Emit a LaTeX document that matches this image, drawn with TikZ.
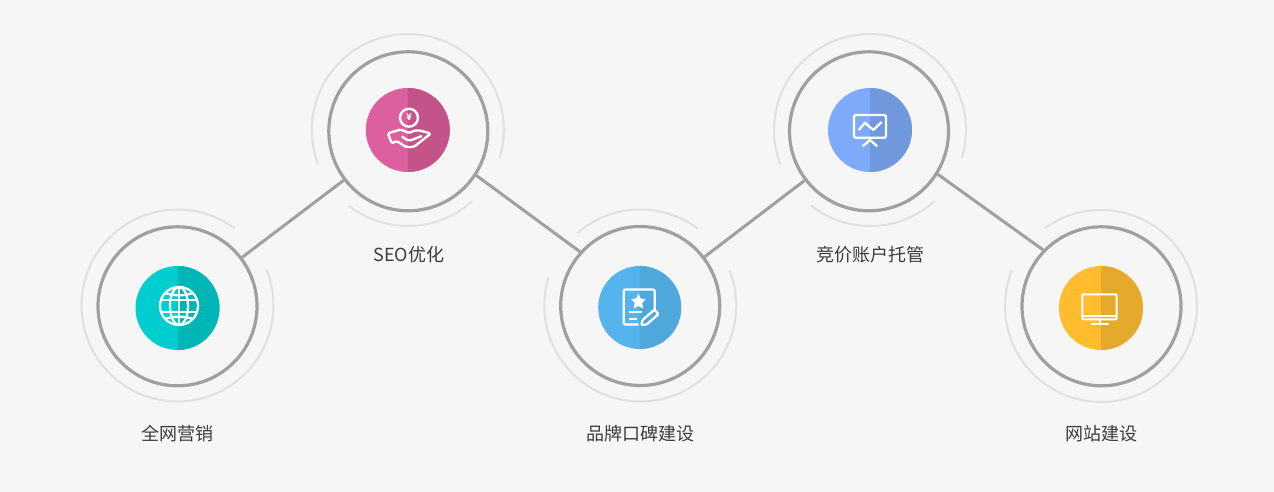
\documentclass[tikz,border=0pt]{standalone}
\usepackage{fontspec}
\setmainfont{Noto Sans CJK SC}
\definecolor{pagebg}{HTML}{F6F6F6}
\definecolor{ringgray}{HTML}{A0A0A0}
\definecolor{halogray}{HTML}{E0E0E0}
\definecolor{labelgray}{HTML}{3C3C3C}
\definecolor{tealL}{HTML}{00CDCF}
\definecolor{tealR}{HTML}{00B5B6}
\definecolor{pinkL}{HTML}{DC5F9E}
\definecolor{pinkR}{HTML}{C35389}
\definecolor{skyL}{HTML}{55B4EE}
\definecolor{skyR}{HTML}{4FA8DC}
\definecolor{bluL}{HTML}{7FAAF9}
\definecolor{bluR}{HTML}{6F99DC}
\definecolor{ambL}{HTML}{FFBC2E}
\definecolor{ambR}{HTML}{E5AA2B}
\begin{document}
\begin{tikzpicture}[x=1pt,y=1pt,
    ring/.style={circle,draw=ringgray,line width=3.2pt,minimum size=159pt,inner sep=0pt},
    halo/.style={draw=halogray,line width=2pt},
    link/.style={draw=ringgray,line width=3pt},
    icon/.style={draw=white,line width=2.3pt,line join=round},
    caption/.style={text=labelgray,font=\fontsize{18}{18}\selectfont,inner sep=0pt}]
    \useasboundingbox (0,0) rectangle (1274,492);
    \fill[pagebg] (0,0) rectangle (1274,492);

    % station 1
    \begin{scope}[shift={(177.5,184)}]
        \fill[tealL] (0,0) circle (42);
        \fill[tealR] (0,42) arc[start angle=90,end angle=-90,radius=42pt] -- cycle;
        \node[ring] (ring1) at (0,1.7) {};
        \draw[halo] (53:96) ++(0,2.5) arc[start angle=53,end angle=382,radius=96pt];
        \node[caption] (cap1) at (0,-126) {全网营销};
        % globe
        \begin{scope}[shift={(1.5,2)}]
            \draw[icon] (0,0) circle (19);
            \draw[icon] (0,0) ellipse (9 and 19);
            \draw[icon] (0,-19) -- (0,19);
            \draw[icon] (-18.5,6) -- (18.5,6);
            \draw[icon] (-18.5,-6) -- (18.5,-6);
            \draw[icon] (-14,13) .. controls (-6,10) and (6,10) .. (14,13);
            \draw[icon] (-14,-13) .. controls (-6,-10) and (6,-10) .. (14,-13);
        \end{scope}
    \end{scope}

    % station 2
    \begin{scope}[shift={(407.8,362)}]
        \fill[pinkL] (0,0) circle (42);
        \fill[pinkR] (0,42) arc[start angle=90,end angle=-90,radius=42pt] -- cycle;
        \node[ring] (ring2) at (0.5,-1.3) {};
        \draw[halo] (-17:96) arc[start angle=-17,end angle=201,radius=96pt];
        \draw[halo] (232:96) arc[start angle=232,end angle=312,radius=96pt];
        \node[caption] (cap2) at (1,-125) {SEO优化};
        % coin and hand
        \draw[icon,line width=2.4pt] (1.2,12.3) circle (9);
        \node[text=white,inner sep=0pt,font=\bfseries\fontsize{9}{9}\selectfont] (coin) at (1.2,12.3) {¥};
        \draw[icon,line width=2.4pt,rounded corners=1.5pt] (-20,-3.3) -- (-7,0.5) -- (1,-3) -- (7,-0.5)
            -- (12,-0.5) -- (23,-3.5) -- (6,-17) -- (-2,-17) -- (-11,-11) -- (-16,-13.5) -- cycle;
        \draw[icon,line width=2.4pt,rounded corners=2pt] (-6,-6.5) -- (1,-11) -- (9,-8) -- (14,-6);
    \end{scope}

    % station 3
    \begin{scope}[shift={(639.7,184.5)}]
        \fill[skyL] (0,0) circle (41.5);
        \fill[skyR] (0,41.5) arc[start angle=90,end angle=-90,radius=41.5pt] -- cycle;
        \node[ring] (ring3) at (0.5,1.5) {};
        \draw[halo] (53:96) ++(0.6,2) arc[start angle=53,end angle=131,radius=96pt];
        \draw[halo] (163:96) ++(0.6,2) arc[start angle=163,end angle=381.5,radius=96pt];
        \node[caption] (cap3) at (0.5,-126.5) {品牌口碑建设};
        % sheet, star and pencil
        \draw[icon,rounded corners=2pt] (15,-4) -- (15,18) -- (-16,18) -- (-16,-17) -- (-1,-17);
        \fill[white] (-1.3,14) -- (1,9) -- (6,8.5) -- (2.5,4.5) -- (3.5,-1) -- (-1.3,1.5)
            -- (-6,-1) -- (-5,4.5) -- (-8.5,8.5) -- (-3.5,9) -- cycle;
        \draw[icon] (-10.3,-4.8) -- (2,-4.8);
        \draw[icon] (-10.3,-11.5) -- (-3,-11.5);
        \begin{scope}[shift={(1.7,-17.5)},rotate=41]
            \draw[icon,rounded corners=1pt] (0,0) -- (4,-3) -- (20,-3) -- (20,3) -- (4,3) -- cycle;
        \end{scope}
    \end{scope}

    % station 4
    \begin{scope}[shift={(870,362)}]
        \fill[bluL] (0,0) circle (42);
        \fill[bluR] (0,42) arc[start angle=90,end angle=-90,radius=42pt] -- cycle;
        \node[ring] (ring4) at (-1,-1.3) {};
        \draw[halo] (-17:96) arc[start angle=-17,end angle=201,radius=96pt];
        \draw[halo] (232:96) arc[start angle=232,end angle=312,radius=96pt];
        \node[caption] (cap4) at (0,-125) {竞价账户托管};
        % board
        \draw[icon,rounded corners=1.5pt] (-16,-7.7) rectangle (16,15);
        \draw[icon] (-11.3,0) -- (-5,7.3) -- (3.3,0) -- (11.7,8);
        \draw[icon] (0,-7.7) -- (0,-10);
        \draw[icon] (-7.3,-16.3) -- (0,-10) -- (7.3,-16.3);
    \end{scope}

    % station 5
    \begin{scope}[shift={(1101,184)}]
        \fill[ambL] (0,0) circle (42);
        \fill[ambR] (0,42) arc[start angle=90,end angle=-90,radius=42pt] -- cycle;
        \node[ring] (ring5) at (0.5,1.7) {};
        \draw[halo] (126:96) ++(0,2) arc[start angle=126,end angle=-202,radius=96pt];
        \node[caption] (cap5) at (0,-126) {网站建设};
        % monitor
        \draw[icon,line width=2pt,rounded corners=1pt] (-18.7,-11.3) rectangle (15.7,13.7);
        \draw[icon,line width=2pt] (-18.7,-8.3) -- (15.7,-8.3);
        \draw[icon,line width=2pt] (-1,-11.3) -- (-1,-16);
        \draw[icon,line width=2pt] (-10.3,-16) -- (8,-16);
    \end{scope}

    \draw[link] (ring1) -- (ring2);
    \draw[link] (ring2.-33) -- (ring3.138);
    \draw[link] (ring3) -- (ring4);
    \draw[link] (ring4.-32) -- (ring5.136);
\end{tikzpicture}
\end{document}
